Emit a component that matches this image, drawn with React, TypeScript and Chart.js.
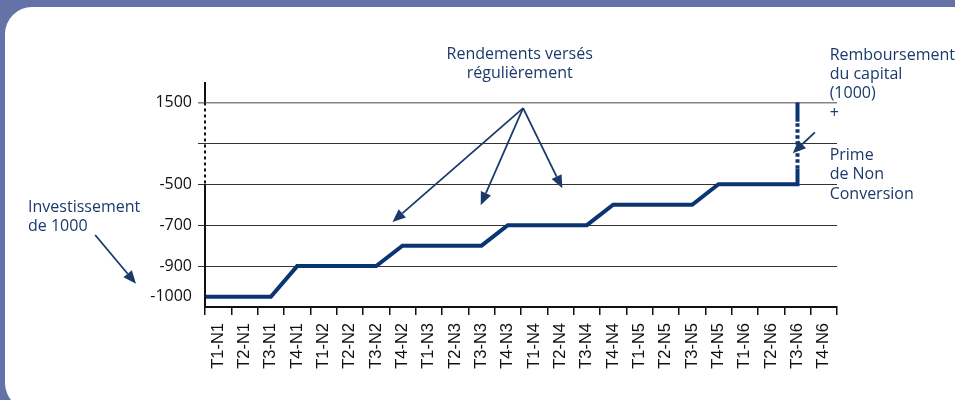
import React, { useEffect, useRef } from 'react';
import { Chart, registerables } from 'chart.js';

Chart.register(...registerables);

// ---------- data ----------
const periods = [
  'T1-N1', 'T2-N1', 'T3-N1', 'T4-N1',
  'T1-N2', 'T2-N2', 'T3-N2', 'T4-N2',
  'T1-N3', 'T2-N3', 'T3-N3', 'T4-N3',
  'T1-N4', 'T2-N4', 'T3-N4', 'T4-N4',
  'T1-N5', 'T2-N5', 'T3-N5', 'T4-N5',
  'T1-N6', 'T2-N6', 'T3-N6', 'T4-N6',
];
const cumulativeFlow: (number | null)[] = [
  -1000, -1000, -1000, -900,
  -900, -900, -900, -800,
  -800, -800, -800, -700,
  -700, -700, -700, -600,
  -600, -600, -600, -500,
  -500, -500, -500, null,
];
const redemptionPeriod = 'T3-N6';
const redemptionLevel = 1500;
const yTickValues = [-1000, -900, -700, -500, 500, 1500];
const yTickLabels = ['-1000', '-900', '-700', '-500', '', '1500'];

// ---------- layout / style ----------
const Y_SLOTS = [0.25, 1, 2, 3, 4, 5]; // broken (non-linear) axis slots
const LINE_COLOR = '#0b3472';
const NOTE_COLOR = '#1b3a6b';
const NOTE_FONT = '16px "Open Sans"';

function toSlot(v: number): number {
  for (let i = 0; i < yTickValues.length - 1; i++) {
    const a = yTickValues[i], b = yTickValues[i + 1];
    if (v <= b || i === yTickValues.length - 2) {
      return Y_SLOTS[i] + ((v - a) / (b - a)) * (Y_SLOTS[i + 1] - Y_SLOTS[i]);
    }
  }
  return Y_SLOTS[0];
}

const notes = [
  { lines: ['Rendements versés', 'régulièrement'], x: 11.45, y: 6.07, align: 'center' },
  { lines: ['Investissement', 'de 1000'], x: -7.22, y: 2.33, align: 'left' },
  { lines: ['Remboursement', 'du capital', '(1000)', '+'], x: 23.22, y: 6.05, align: 'left' },
  { lines: ['Prime', 'de Non', 'Conversion'], x: 23.22, y: 3.6, align: 'left' },
];
const arrows = [
  { from: [11.58, 4.86], to: [6.62, 2.08] },
  { from: [11.58, 4.86], to: [9.97, 2.49] },
  { from: [11.58, 4.86], to: [13.07, 2.9] },
  { from: [-4.67, 1.76], to: [-3.12, 0.57] },
  { from: [22.66, 4.27], to: [21.82, 3.76] },
];

const annotationPlugin = {
  id: 'annotations',
  afterDraw(chart: any) {
    const { ctx, chartArea } = chart;
    const xs = chart.scales.xl;
    const ys = chart.scales.y;
    const X = (v: number) => xs.getPixelForValue(v);
    const Y = (v: number) => ys.getPixelForValue(v);

    // broken y axis
    ctx.save();
    ctx.strokeStyle = '#111';
    ctx.lineWidth = 2;
    const ax = Math.round(chartArea.left);
    const seg = (y1: number, y2: number, dash: number[]) => {
      ctx.setLineDash(dash);
      ctx.beginPath();
      ctx.moveTo(ax, y1);
      ctx.lineTo(ax, y2);
      ctx.stroke();
    };
    seg(chartArea.top, Y(5), []);
    seg(Y(5), Y(3), [3, 3]);
    seg(Y(3), chartArea.bottom + 1, []);
    ctx.setLineDash([]);

    // notes
    ctx.fillStyle = NOTE_COLOR;
    ctx.font = NOTE_FONT;
    ctx.textBaseline = 'alphabetic';
    notes.forEach((n) => {
      ctx.textAlign = n.align;
      n.lines.forEach((t, i) => {
        ctx.fillText(t, X(n.x), Y(n.y) + i * 19.4);
      });
    });

    // arrows
    ctx.strokeStyle = NOTE_COLOR;
    ctx.lineWidth = 1.8;
    arrows.forEach((a) => {
      const x1 = X(a.from[0]), y1 = Y(a.from[1]);
      const x2 = X(a.to[0]), y2 = Y(a.to[1]);
      const ang = Math.atan2(y2 - y1, x2 - x1);
      const L = 13, W = 5.5;
      const bx = x2 - L * Math.cos(ang), by = y2 - L * Math.sin(ang);
      ctx.beginPath();
      ctx.moveTo(x1, y1);
      ctx.lineTo(bx, by);
      ctx.stroke();
      ctx.beginPath();
      ctx.moveTo(x2, y2);
      ctx.lineTo(bx + W * Math.sin(ang), by - W * Math.cos(ang));
      ctx.lineTo(bx - W * Math.sin(ang), by + W * Math.cos(ang));
      ctx.closePath();
      ctx.fill();
    });
    ctx.restore();
  },
};

export default function App() {
  const ref = useRef<HTMLCanvasElement | null>(null);

  useEffect(() => {
    if (!ref.current) return;

    const pts: { x: number; y: number }[] = [];
    pts.push({ x: -0.5, y: toSlot(cumulativeFlow[0] as number) });
    cumulativeFlow.forEach((v, i) => {
      if (v !== null) pts.push({ x: i, y: toSlot(v) });
    });
    const ri = periods.indexOf(redemptionPeriod);
    const lo = toSlot(cumulativeFlow[ri] as number);
    const hi = toSlot(redemptionLevel);
    pts.push({ x: ri, y: lo + (hi - lo) * 0.19 });
    pts.push({ x: ri, y: lo + (hi - lo) * 0.765 });
    pts.push({ x: ri, y: hi });
    const dashedIdx = pts.length - 3;

    const chart = new Chart(ref.current, {
      type: 'line',
      data: {
        labels: periods,
        datasets: [
          {
            data: pts,
            xAxisID: 'xl',
            yAxisID: 'y',
            borderColor: LINE_COLOR,
            borderWidth: 4,
            pointRadius: 0,
            tension: 0,
            fill: false,
            borderJoinStyle: 'miter',
            segment: {
              borderDash: (c: any) => (c.p0DataIndex === dashedIdx ? [3.5, 2.5] : undefined),
            },
          } as any,
        ],
      },
      options: {
        responsive: false,
        animation: false,
        devicePixelRatio: 1,
        layout: { padding: { top: 82, right: 118, left: 0, bottom: 0 } },
        plugins: { legend: { display: false }, tooltip: { enabled: false } },
        scales: {
          x: {
            type: 'category',
            position: 'bottom',
            offset: true,
            grid: {
              offset: true,
              drawOnChartArea: false,
              drawTicks: true,
              tickLength: 8,
              color: '#111',
              lineWidth: 1.5,
            },
            border: { display: true, color: '#111', width: 2 },
            ticks: {
              autoSkip: false,
              minRotation: 90,
              maxRotation: 90,
              padding: 8,
              color: '#111',
              font: { family: '"Liberation Sans"', size: 16.5 },
            },
            afterFit: (s: any) => {
              s.height = 93;
            },
          },
          xl: {
            type: 'linear',
            position: 'bottom',
            display: false,
            min: -0.5,
            max: periods.length - 0.5,
          },
          y: {
            type: 'linear',
            min: 0,
            max: 5.5,
            afterBuildTicks: (s: any) => {
              s.ticks = Y_SLOTS.map((v) => ({ value: v }));
            },
            ticks: {
              padding: 6,
              color: '#111',
              font: { family: '"Open Sans"', size: 16 },
              callback: (_v: any, i: number) => yTickLabels[i],
            },
            grid: {
              tickLength: 7,
              color: (c: any) =>
                c.tick && c.tick.value === Y_SLOTS[0]
                  ? 'rgba(0,0,0,0)'
                  : c.tick && c.tick.value === Y_SLOTS[Y_SLOTS.length - 1]
                  ? '#858585'
                  : '#333',
              lineWidth: (c: any) =>
                c.tick && c.tick.value === Y_SLOTS[Y_SLOTS.length - 1] ? 1.6 : 1,
            },
            border: { display: false },
            afterFit: (s: any) => {
              s.width = 205;
            },
          },
        },
      } as any,
      plugins: [annotationPlugin],
    });

    return () => chart.destroy();
  }, []);

  return (
    <div
      style={{
        position: 'absolute',
        left: 0,
        top: 0,
        width: 955,
        height: 400,
        overflow: 'hidden',
        background: '#6572a8',
      }}
    >
      <div
        style={{
          position: 'absolute',
          left: 5,
          top: 7,
          width: 980,
          height: 403,
          background: '#ffffff',
          borderRadius: 27,
        }}
      />
      <canvas
        ref={ref}
        width={955}
        height={400}
        style={{ position: 'absolute', left: 0, top: 0, width: 955, height: 400 }}
      />
    </div>
  );
}
